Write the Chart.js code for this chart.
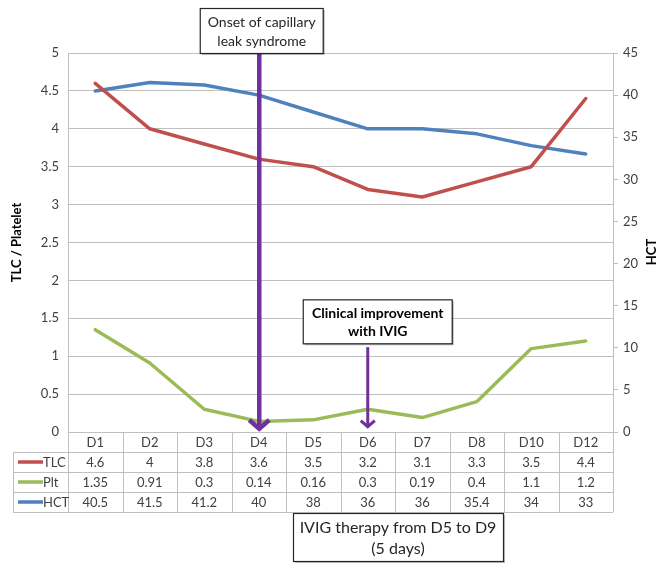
<!DOCTYPE html>
<html>
<head>
<meta charset="utf-8">
<script src="https://cdn.jsdelivr.net/npm/chart.js@4"></script>
<style>
  html, body { margin: 0; padding: 0; background: #ffffff; }
  #wrap { width: 669px; height: 570px; position: relative; }
</style>
</head>
<body>
<div id="wrap"><canvas id="chart"></canvas></div>
<script>
// 날짜 / 값 (표에 있는 값 그대로)
const days = ["D1", "D2", "D3", "D4", "D5", "D6", "D7", "D8", "D10", "D12"];
const tlc = [4.6, 4, 3.8, 3.6, 3.5, 3.2, 3.1, 3.3, 3.5, 4.4];
const plt = [1.35, 0.91, 0.3, 0.14, 0.16, 0.3, 0.19, 0.4, 1.1, 1.2];
const hct = [40.5, 41.5, 41.2, 40, 38, 36, 36, 35.4, 34, 33];
const seriesNames = ["TLC", "Plt", "HCT"];
const seriesColors = ["#c0504d", "#9bbb59", "#4f81bd"];

const FONT = "Lato, 'Liberation Sans', sans-serif";
const TEXT = "#404040";
const GRID = "#c0c0c0";
const PURPLE = "#7030a0";

function box(ctx, x1, y1, x2, y2) {
  ctx.save();
  ctx.fillStyle = "rgba(0,0,0,0.25)";
  ctx.fillRect(x1 + 2, y1 + 2, x2 - x1, y2 - y1);
  ctx.fillStyle = "#ffffff";
  ctx.fillRect(x1, y1, x2 - x1, y2 - y1);
  ctx.strokeStyle = "#262626";
  ctx.lineWidth = 1.2;
  ctx.strokeRect(x1 + 0.5, y1 + 0.5, x2 - x1, y2 - y1);
  ctx.restore();
}

function arrow(ctx, x, y1, y2, width, head) {
  ctx.save();
  ctx.strokeStyle = PURPLE;
  ctx.lineWidth = width;
  ctx.lineCap = "butt";
  ctx.beginPath();
  ctx.moveTo(x, y1);
  ctx.lineTo(x, y2 - width / 2);
  ctx.stroke();
  ctx.lineJoin = "miter";
  ctx.beginPath();
  ctx.moveTo(x - head, y2 - head * 1.1);
  ctx.lineTo(x, y2 - width / 2);
  ctx.lineTo(x + head, y2 - head * 1.1);
  ctx.stroke();
  ctx.restore();
}

// 데이터 표 + 주석 그리기
const tablePlugin = {
  id: "dataTable",
  afterDraw(chart) {
    const ctx = chart.ctx;
    const xs = chart.scales.x;
    const yl = chart.scales.y;
    const area = chart.chartArea;
    const colW = xs.getPixelForValue(1) - xs.getPixelForValue(0);
    const rowH = 20;
    const top = area.bottom;
    const tableLeft = 13;

    ctx.save();
    ctx.strokeStyle = GRID;
    ctx.lineWidth = 1;
    // 가로선
    for (let r = 1; r <= 4; r++) {
      const y = Math.round(top + r * rowH) + 0.5;
      ctx.beginPath();
      ctx.moveTo(tableLeft, y);
      ctx.lineTo(area.right, y);
      ctx.stroke();
    }
    // 세로선
    for (let i = 0; i <= days.length; i++) {
      const x = Math.round(area.left + i * colW) + 0.5;
      ctx.beginPath();
      ctx.moveTo(x, top);
      ctx.lineTo(x, top + 4 * rowH);
      ctx.stroke();
    }
    ctx.beginPath();
    ctx.moveTo(tableLeft + 0.5, top + rowH);
    ctx.lineTo(tableLeft + 0.5, top + 4 * rowH);
    ctx.stroke();

    ctx.fillStyle = TEXT;
    ctx.font = "13px " + FONT;
    ctx.textAlign = "center";
    ctx.textBaseline = "middle";
    days.forEach((d, i) => {
      ctx.fillText(d, xs.getPixelForValue(i), top + rowH / 2 + 1);
    });
    const rows = [tlc, plt, hct];
    rows.forEach((vals, r) => {
      const cy = top + (r + 1) * rowH + rowH / 2 + 1;
      vals.forEach((v, i) => {
        ctx.fillText(String(v), xs.getPixelForValue(i), cy);
      });
      // 범례 표시
      ctx.strokeStyle = seriesColors[r];
      ctx.lineWidth = 3.5;
      ctx.beginPath();
      ctx.moveTo(18, cy - 1);
      ctx.lineTo(43, cy - 1);
      ctx.stroke();
      ctx.textAlign = "left";
      ctx.fillText(seriesNames[r], 43, cy);
      ctx.textAlign = "center";
    });

    // 오른쪽 축 제목
    ctx.save();
    ctx.translate(652, 252);
    ctx.rotate(-Math.PI / 2);
    ctx.font = "bold 13px " + FONT;
    ctx.fillStyle = "#000000";
    ctx.fillText("HCT", 0, 0);
    ctx.restore();

    // 주석: 모세혈관 누출 증후군
    const x4 = xs.getPixelForValue(3);
    arrow(ctx, x4 + 0.5, area.top, yl.getPixelForValue(0) - 1, 4.5, 10);
    box(ctx, x4 - 59, 8, x4 + 64, area.top);
    ctx.fillStyle = "#262626";
    ctx.font = "14px " + FONT;
    ctx.fillText("Onset of capillary", x4 + 3, 22);
    ctx.fillText("leak syndrome", x4 + 3, 41);

    // 주석: 임상 호전
    const x6 = xs.getPixelForValue(5);
    arrow(ctx, x6, yl.getPixelForValue(1.12), yl.getPixelForValue(0.05), 3, 7);
    const b2top = yl.getPixelForValue(1.75);
    const b2bot = yl.getPixelForValue(1.17);
    box(ctx, x6 - 65, b2top, x6 + 84, b2bot);
    ctx.fillStyle = "#000000";
    ctx.font = "bold 14px " + FONT;
    ctx.fillText("Clinical improvement", x6 + 10, b2top + 14);
    ctx.fillText("with IVIG", x6 + 10, b2top + 32);

    // 주석: IVIG 치료 기간
    const xm = (x6 + xs.getPixelForValue(6)) / 2;
    box(ctx, xm - 102, top + 81, xm + 108, top + 129);
    ctx.fillStyle = "#262626";
    ctx.font = "16px " + FONT;
    ctx.fillText("IVIG therapy from D5 to D9", xm + 3, top + 96);
    ctx.fillText("(5 days)", xm + 3, top + 117);
    ctx.restore();
  },
};

const ctx = document.getElementById("chart").getContext("2d");
new Chart(ctx, {
  type: "line",
  data: {
    labels: days,
    datasets: [
      { label: "TLC", data: tlc, borderColor: seriesColors[0], yAxisID: "y" },
      { label: "Plt", data: plt, borderColor: seriesColors[1], yAxisID: "y" },
      { label: "HCT", data: hct, borderColor: seriesColors[2], yAxisID: "y1" },
    ].map((d) => ({
      ...d,
      borderWidth: 3.5,
      pointRadius: 0,
      tension: 0,
      borderJoinStyle: "round",
      borderCapStyle: "round",
    })),
  },
  options: {
    responsive: true,
    maintainAspectRatio: false,
    animation: false,
    layout: { padding: { top: 53, bottom: 138, left: 0, right: 0 } },
    plugins: {
      legend: { display: false },
      tooltip: { enabled: false },
    },
    scales: {
      x: {
        display: false,
        offset: true,
      },
      y: {
        position: "left",
        min: 0,
        max: 5,
        ticks: {
          stepSize: 0.5,
          color: TEXT,
          padding: 9,
          font: { family: FONT, size: 13 },
          callback: (value) => String(Math.round(value * 10) / 10),
        },
        grid: { color: GRID, drawTicks: false },
        border: { display: true, color: GRID },
        title: {
          display: true,
          text: "TLC / Platelet",
          color: "#000000",
          padding: { top: 9, bottom: 0 },
          font: { family: FONT, size: 13, weight: "bold" },
        },
        afterFit(scale) {
          scale.width = 68;
        },
      },
      y1: {
        position: "right",
        min: 0,
        max: 45,
        ticks: {
          stepSize: 5,
          color: TEXT,
          padding: 5,
          font: { family: FONT, size: 13 },
        },
        grid: { drawOnChartArea: false, color: GRID, tickLength: 5 },
        border: { display: true, color: GRID },
        afterFit(scale) {
          scale.width = 56;
        },
      },
    },
  },
  plugins: [tablePlugin],
});
</script>
</body>
</html>
